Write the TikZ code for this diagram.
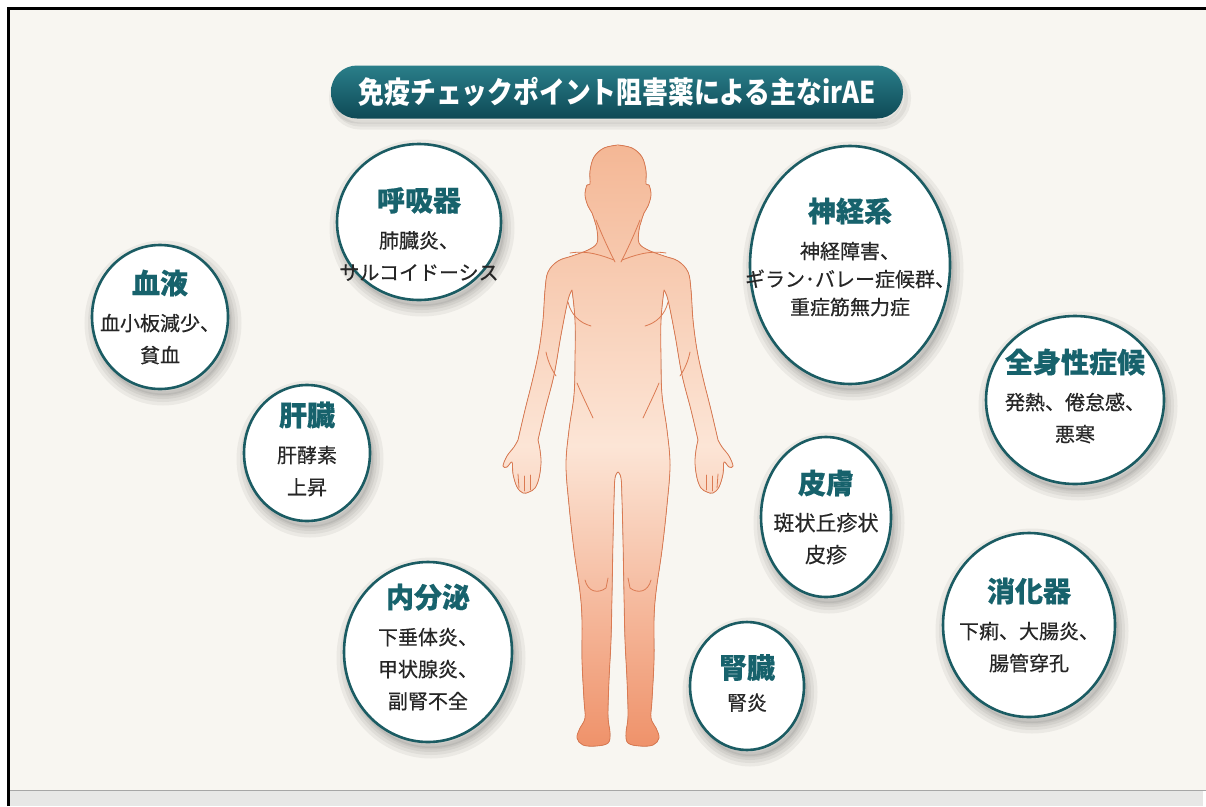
\documentclass[tikz,border=0pt]{standalone}
\usepackage{fontspec}
\setmainfont{Noto Sans CJK JP}
\newfontfamily\bannerfont[FakeStretch = 0.86]{Noto Sans CJK JP}
\newfontfamily\bubblefont[FakeBold = 0.5]{Noto Sans CJK JP}
\usetikzlibrary{shapes.geometric}

\definecolor{irPaper}{HTML}{F8F6F1}
\definecolor{irBand}{HTML}{E7E7E6}
\definecolor{irRim}{HTML}{1B5C63}
\definecolor{irTeal}{HTML}{17626C}
\definecolor{irInk}{HTML}{262626}
\definecolor{irBannerTop}{HTML}{2A7E8A}
\definecolor{irBannerLow}{HTML}{0E4A55}
\definecolor{bodyTop}{HTML}{F4B795}
\definecolor{bodyMid}{HTML}{FCE5D6}
\definecolor{bodyLow}{HTML}{EF926A}
\definecolor{bodyLine}{HTML}{DB7A52}

\newcommand\organname[1]{{\fontsize{28}{32}\selectfont\bfseries\color{irTeal}#1}}

\begin{document}
\begin{tikzpicture}[x = 1pt, y = -1pt,
  softshadow/.style = {preaction = {draw = black, opacity = 0.05, line width = #1,
    transform canvas = {xshift = 3pt, yshift = -6pt}}},
  organ/.style = {ellipse, draw = irRim, fill = white, line width = 2.6pt, inner sep = 0pt,
    preaction = {fill = black, opacity = 0.06, transform canvas = {xshift = 3pt, yshift = -6pt}},
    softshadow = 3pt, softshadow = 8pt, softshadow = 14pt, softshadow = 21pt},
  organtext/.style = {align = center, text = irInk, inner sep = 0pt, font = \bubblefont\fontsize{20}{32}\selectfont},
  banner/.style = {rectangle, rounded corners = 26pt, minimum width = 572pt, minimum height = 53pt,
    top color = irBannerTop, bottom color = irBannerLow, text = white, inner sep = 0pt,
    font = \bannerfont\bfseries\fontsize{30}{30}\selectfont,
    preaction = {fill = black, opacity = 0.06, transform canvas = {yshift = -5pt}},
    softshadow = 4pt, softshadow = 10pt},
  bodyline/.style = {draw = bodyLine, line width = 0.8pt, line join = round, line cap = round}]
\useasboundingbox (0, 0) rectangle (1206, 806);

% sheet and frame
\fill[white] (0, 0) rectangle (1206, 806);
\fill[irPaper] (8, 8) rectangle (1206, 790);
\fill[irBand] (10, 791) rectangle (1203, 806);
\draw[gray!70, line width = 1.5pt] (9, 790.5) -- (1206, 790.5);
\draw[black, line width = 3pt] (8, 806) -- (8, 8) -- (1206, 8);

% heading
\node[banner] (heading) at (617, 92) {免疫チェックポイント阻害薬による主なirAE};

% figure, left half; right half is its mirror image
\def\bodyhalf{plot[smooth, tension = 0.6] coordinates {(0, 145) (-14, 148) (-24, 157) (-28, 171) (-28, 184)
    (-31, 185) (-33, 195) (-30, 206) (-26, 213) (-23, 222) (-21, 230) (-21, 243) (-30, 250) (-46, 256)
    (-60, 261) (-70, 272) (-73, 290) (-75, 320) (-79, 350) (-85, 378) (-93, 410) (-100, 440)}
  -- plot[smooth, tension = 0.6] coordinates {(-100, 440) (-104, 447) (-111, 456) (-115, 466) (-111, 467)
    (-106, 462) (-105, 474) (-101, 487) (-95, 493) (-89, 492) (-83, 488) (-79, 478) (-77, 463) (-78, 450) (-80, 440)}
  -- plot[smooth, tension = 0.6] coordinates {(-80, 440) (-73, 410) (-64, 375) (-57, 335) (-50, 300) (-46, 290)}
  -- plot[smooth, tension = 0.6] coordinates {(-46, 290) (-43, 320) (-43, 360) (-44, 395) (-49, 430) (-52, 465)
    (-49, 505) (-44, 550) (-38, 592) (-36, 620) (-36, 660) (-34, 700) (-33, 718) (-38, 728) (-41, 738)
    (-35, 745) (-22, 746) (-10, 743) (-8, 733) (-10, 716) (-9, 680) (-7, 640) (-6, 595) (-5, 540)
    (-4, 500) (-3, 478) (0, 472)}}
\foreach \side in {1, -1} {
  \begin{scope}[shift = {(618, 0)}, xscale = \side]
    \fill[top color = bodyTop, bottom color = bodyLow, middle color = bodyMid] \bodyhalf -- (1, 472) -- (1, 145) -- cycle;
    \draw[bodyline] \bodyhalf;
    \draw[bodyline] (-22, 220) .. controls (-14, 240) and (-8, 252) .. (-3, 262);
    \draw[bodyline] (-48, 253) .. controls (-30, 250) and (-15, 256) .. (-4, 260);
    \draw[bodyline] (-50, 302) .. controls (-47, 315) and (-38, 323) .. (-27, 326);
    \draw[bodyline] (-41, 383) .. controls (-36, 395) and (-31, 405) .. (-25, 418);
    \draw[bodyline] (-72, 352) .. controls (-70, 362) and (-66, 370) .. (-62, 376);
    \draw[bodyline] (-33, 580) .. controls (-30, 592) and (-20, 594) .. (-12, 588) -- (-10, 578);
    \draw[bodyline] (-100, 474) -- (-99, 488);
    \draw[bodyline] (-94, 476) -- (-94, 491);
    \draw[bodyline] (-88, 475) -- (-88, 490);
  \end{scope}
}

% organ bubbles
\node[organ, minimum width = 136pt, minimum height = 144pt] (blood) at (160, 317) {};
\node[organtext] (blood-txt) at (blood) {\organname{血液}\\[5pt] 血小板減少、\\ 貧血};

\node[organ, minimum width = 164pt, minimum height = 156pt] (resp) at (419, 222) {};
\node[organtext, yshift = -12pt] (resp-txt) at (resp) {\organname{呼吸器}\\[5pt] 肺臓炎、\\ サルコイドーシス};

\node[organ, minimum width = 126pt, minimum height = 136pt] (liver) at (307, 453) {};
\node[organtext, yshift = 4pt] (liver-txt) at (liver) {\organname{肝臓}\\[5pt] 肝酵素\\ 上昇};

\node[organ, minimum width = 168pt, minimum height = 180pt] (endo) at (428, 652) {};
\node[organtext, yshift = 5pt] (endo-txt) at (endo) {\organname{内分泌}\\[5pt] 下垂体炎、\\ 甲状腺炎、\\ 副腎不全};

\node[organ, minimum width = 200pt, minimum height = 238pt] (nerve) at (850, 265) {};
\node[organtext, yshift = 8pt, font = \bubblefont\fontsize{20}{28}\selectfont] (nerve-txt) at (nerve) {\organname{神経系}\\[9pt] 神経障害、\\ ギラン･バレー症候群、\\ 重症筋無力症};

\node[organ, minimum width = 178pt, minimum height = 168pt] (general) at (1075, 400) {};
\node[organtext, yshift = 4pt] (general-txt) at (general) {\organname{全身性症候}\\[5pt] 発熱、倦怠感、\\ 悪寒};

\node[organ, minimum width = 130pt, minimum height = 160pt] (skin) at (826, 517) {};
\node[organtext, font = \bubblefont\fontsize{21}{32}\selectfont] (skin-txt) at (skin) {\organname{皮膚}\\[5pt] 斑状丘疹状\\ 皮疹};

\node[organ, minimum width = 172pt, minimum height = 184pt] (digest) at (1029, 625) {};
\node[organtext] (digest-txt) at (digest) {\organname{消化器}\\[5pt] 下痢、大腸炎、\\ 腸管穿孔};

\node[organ, minimum width = 114pt, minimum height = 128pt] (kidney) at (747, 686) {};
\node[organtext, yshift = 3pt] (kidney-txt) at (kidney) {\organname{腎臓}\\[0pt] 腎炎};
\end{tikzpicture}
\end{document}
